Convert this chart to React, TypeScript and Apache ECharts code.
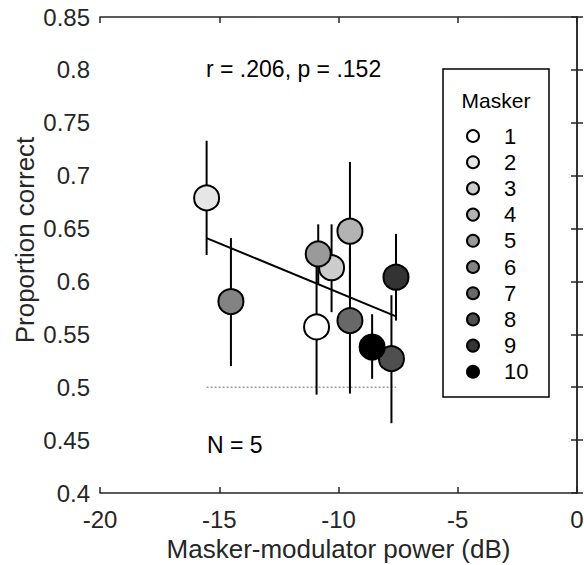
import React, { useEffect, useRef } from "react";
import * as echarts from "echarts";

const maskers = ["1", "2", "3", "4", "5", "6", "7", "8", "9", "10"];
const maskerColors = ["#ffffff", "#e6e6e6", "#cccccc", "#b3b3b3", "#9a9a9a", "#838383", "#686868", "#4f4f4f", "#333333", "#000000"];
const xVals = [-10.92, -15.53, -10.29, -9.52, -10.85, -14.51, -9.52, -7.78, -7.59, -8.59];
const yVals = [0.557, 0.679, 0.613, 0.6475, 0.626, 0.581, 0.563, 0.527, 0.604, 0.538];
const errLow = [0.493, 0.625, 0.571, 0.583, 0.597, 0.52, 0.494, 0.466, 0.563, 0.508];
const errHigh = [0.616, 0.733, 0.654, 0.713, 0.654, 0.641, 0.632, 0.587, 0.645, 0.569];
const fitX = [-15.53, -7.59];
const fitY = [0.641, 0.567];
const chanceX = [-15.53, -7.59];
const chanceY = 0.5;

const FONT = "'Liberation Sans', Arial, Helvetica, sans-serif";
const TXT = "#262626";

export default function App() {
  const ref = useRef<HTMLDivElement>(null);
  useEffect(() => {
    if (!ref.current) return;
    const chart = echarts.init(ref.current, undefined, { renderer: "svg" });
    const errData = maskers.map((_, i) => [xVals[i], errLow[i], errHigh[i]]);
    const series: any[] = [
      {
        type: "custom",
        name: "err",
        z: 2,
        data: errData,
        encode: { x: 0, y: [1, 2] },
        renderItem: (params: any, api: any) => {
          const x = api.value(0);
          const lo = api.coord([x, api.value(1)]);
          const hi = api.coord([x, api.value(2)]);
          return {
            type: "line",
            shape: { x1: lo[0], y1: lo[1], x2: hi[0], y2: hi[1] },
            style: { stroke: "#000", lineWidth: 2 },
          };
        },
      },
      {
        type: "line",
        name: "chance",
        z: 1,
        data: chanceX.map((x) => [x, chanceY]),
        symbol: "none",
        lineStyle: { color: "#9a9a9a", width: 1.5, type: [2, 2] },
      },
      {
        type: "line",
        name: "fit",
        z: 5,
        data: fitX.map((x, i) => [x, fitY[i]]),
        symbol: "none",
        lineStyle: { color: "#000", width: 2 },
      },
    ];
    maskers.forEach((m, i) => {
      series.push({
        type: "scatter",
        name: m,
        z: 3,
        data: [[xVals[i], yVals[i]]],
        symbol: "circle",
        symbolSize: 25,
        itemStyle: { color: maskerColors[i], borderColor: "#000", borderWidth: 2, opacity: 1 },
      });
    });
    const axisLine = { show: true, lineStyle: { color: TXT, width: 1.5 } };
    chart.setOption({
      animation: false,
      backgroundColor: "#fff",
      grid: { left: 100, right: 7, top: 17, bottom: 72, containLabel: false, outerBoundsMode: "none" },
      xAxis: [
        {
          type: "value",
          min: -20,
          max: 0,
          interval: 5,
          name: "Masker-modulator power (dB)",
          nameLocation: "middle",
          nameGap: 42,
          nameTextStyle: { fontSize: 26, color: TXT, fontFamily: FONT },
          axisLine,
          axisTick: { inside: true, length: 6, lineStyle: { color: TXT, width: 1.5 } },
          axisLabel: { fontSize: 24, color: TXT, fontFamily: FONT, margin: 14 },
          splitLine: { show: false },
        },
        {
          type: "value",
          position: "top",
          min: -20,
          max: 0,
          interval: 5,
          axisLine,
          axisTick: { inside: true, length: 6, lineStyle: { color: TXT, width: 1.5 } },
          axisLabel: { show: false },
          splitLine: { show: false },
        },
      ],
      yAxis: [
        {
          type: "value",
          min: 0.4,
          max: 0.85,
          interval: 0.05,
          axisLine,
          axisTick: { inside: true, length: 6, lineStyle: { color: TXT, width: 1.5 } },
          axisLabel: {
            fontSize: 24,
            color: TXT,
            fontFamily: FONT,
            margin: 10,
            formatter: (v: number) => String(+v.toFixed(2)),
          },
          splitLine: { show: false },
        },
        {
          type: "value",
          position: "right",
          min: 0.4,
          max: 0.85,
          interval: 0.05,
          axisLine,
          axisTick: { inside: true, length: 6, lineStyle: { color: TXT, width: 1.5 } },
          axisLabel: { show: false },
          splitLine: { show: false },
        },
      ],
      legend: {
        data: maskers,
        orient: "vertical",
        left: 466,
        top: 125,
        padding: 0,
        itemWidth: 12,
        itemHeight: 12,
        itemGap: 4.2,
        icon: "circle",
        textStyle: { fontSize: 22, color: "#000", fontFamily: FONT, lineHeight: 12, padding: [0, 0, 0, 20] },
      },
      graphic: [
        {
          type: "rect",
          shape: { x: 443, y: 69, width: 106, height: 328 },
          style: { fill: "none", stroke: "#000", lineWidth: 1.5 },
          z: 10,
        },
        {
          type: "text",
          x: 496,
          y: 100,
          style: { text: "Masker", fontSize: 21, fill: "#000", fontFamily: FONT, align: "center", verticalAlign: "middle" },
          z: 10,
        },
        {
          type: "text",
          x: 206,
          y: 69,
          style: { text: "r = .206, p = .152", fontSize: 23, fill: "#000", fontFamily: FONT, align: "left", verticalAlign: "middle" },
          z: 10,
        },
        {
          type: "text",
          x: 207,
          y: 445,
          style: { text: "N = 5", fontSize: 23, fill: "#000", fontFamily: FONT, align: "left", verticalAlign: "middle" },
          z: 10,
        },
        {
          type: "text",
          x: 25,
          y: 240,
          rotation: Math.PI / 2,
          style: { text: "Proportion correct", fontSize: 26, fill: TXT, fontFamily: FONT, align: "center", verticalAlign: "middle" },
          z: 10,
        },
      ],
      series,
    });
    return () => chart.dispose();
  }, []);
  return <div ref={ref} style={{ position: "absolute", left: 0, top: 0, width: 584, height: 565 }} />;
}
